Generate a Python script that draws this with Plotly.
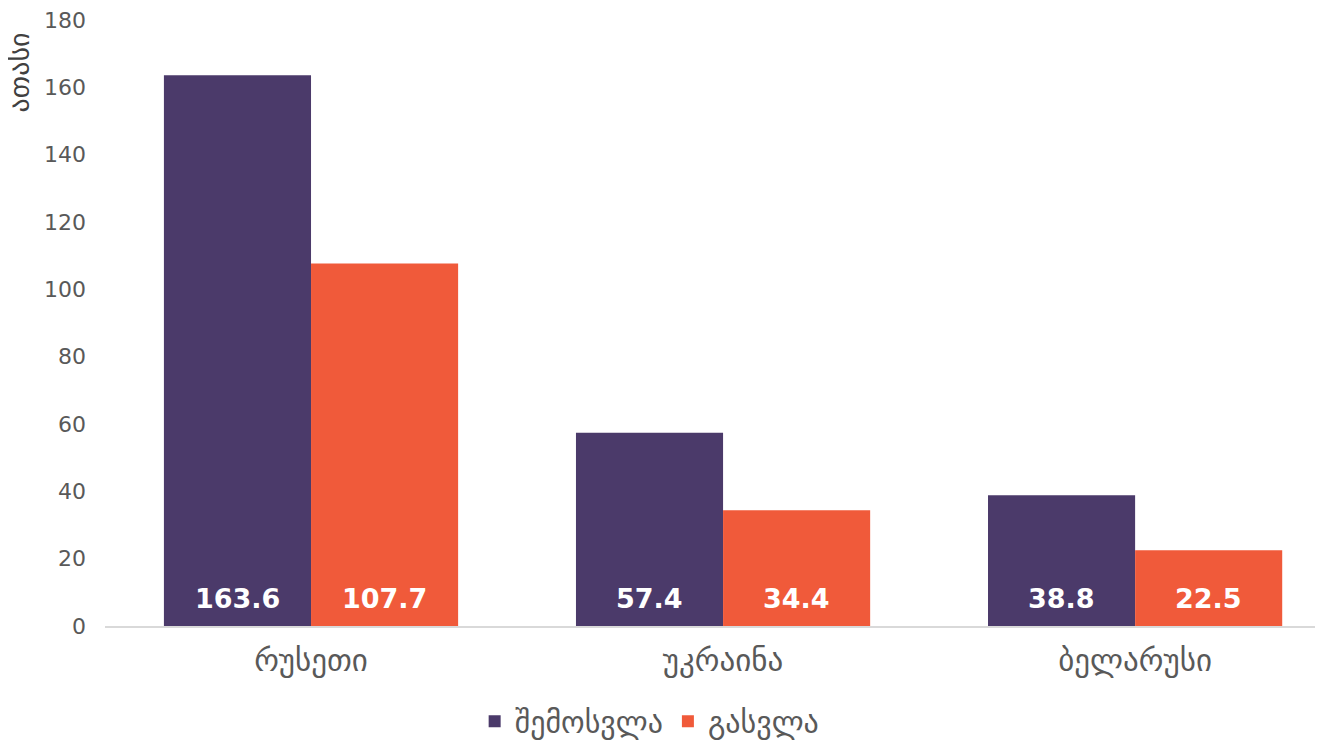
import plotly.graph_objects as go

categories = ["რუსეთი", "უკრაინა", "ბელარუსი"]
arrivals = [163.6, 57.4, 38.8]
departures = [107.7, 34.4, 22.5]
series_names = ["შემოსვლა", "გასვლა"]
y_ticks = [0, 20, 40, 60, 80, 100, 120, 140, 160, 180]
y_title = "ათასი"

FONT = "DejaVu Sans"
C1 = "#4B3A6A"
C2 = "#F05A3A"

fig = go.Figure()
fig.add_trace(go.Bar(x=categories, y=arrivals, name=series_names[0], marker_color=C1,
                     marker_line_width=0))
fig.add_trace(go.Bar(x=categories, y=departures, name=series_names[1], marker_color=C2,
                     marker_line_width=0))

bar_px = 147
for vals, shift in [(arrivals, -bar_px / 2), (departures, bar_px / 2)]:
    for c, v in zip(categories, vals):
        fig.add_annotation(x=c, y=0, xref="x", yref="y", text=f"<b>{v:.1f}</b>",
                           showarrow=False, xshift=shift, yshift=28, yanchor="middle",
                           font=dict(family=FONT, size=27, color="white"))

fig.add_annotation(x=-0.0705, y=0.983, xref="paper", yref="paper", text=y_title,
                   textangle=-90, showarrow=False, xanchor="center", yanchor="top",
                   font=dict(family=FONT, size=28, color="#404040"))

fig.update_layout(
    width=1323, height=740,
    margin=dict(l=97, r=8, t=12, b=122, autoexpand=False),
    paper_bgcolor="white", plot_bgcolor="white",
    barmode="group", bargap=0.286, bargroupgap=0,
    font=dict(family=FONT, color="#595959"),
    showlegend=True,
    legend=dict(orientation="h", xref="container", yref="container", x=0.485, y=0.036,
                xanchor="center", yanchor="middle", font=dict(family=FONT, size=30, color="#595959"),
                itemwidth=30, tracegroupgap=0),
    xaxis=dict(range=[-0.5, 2.456], showgrid=False, showline=True, linecolor="#D9D9D9",
               linewidth=2, ticks="", tickfont=dict(family=FONT, size=31, color="#595959"),
               ticklabelstandoff=6, automargin=False, ticklabeloverflow="allow"),
    yaxis=dict(range=[0, 180], tickvals=y_ticks, showgrid=False, zeroline=False, showline=False,
               ticks="", tickfont=dict(family=FONT, size=22, color="#595959"),
               ticklabelstandoff=18, automargin=False, ticklabeloverflow="allow"),
)

fig.write_html("out.html")
